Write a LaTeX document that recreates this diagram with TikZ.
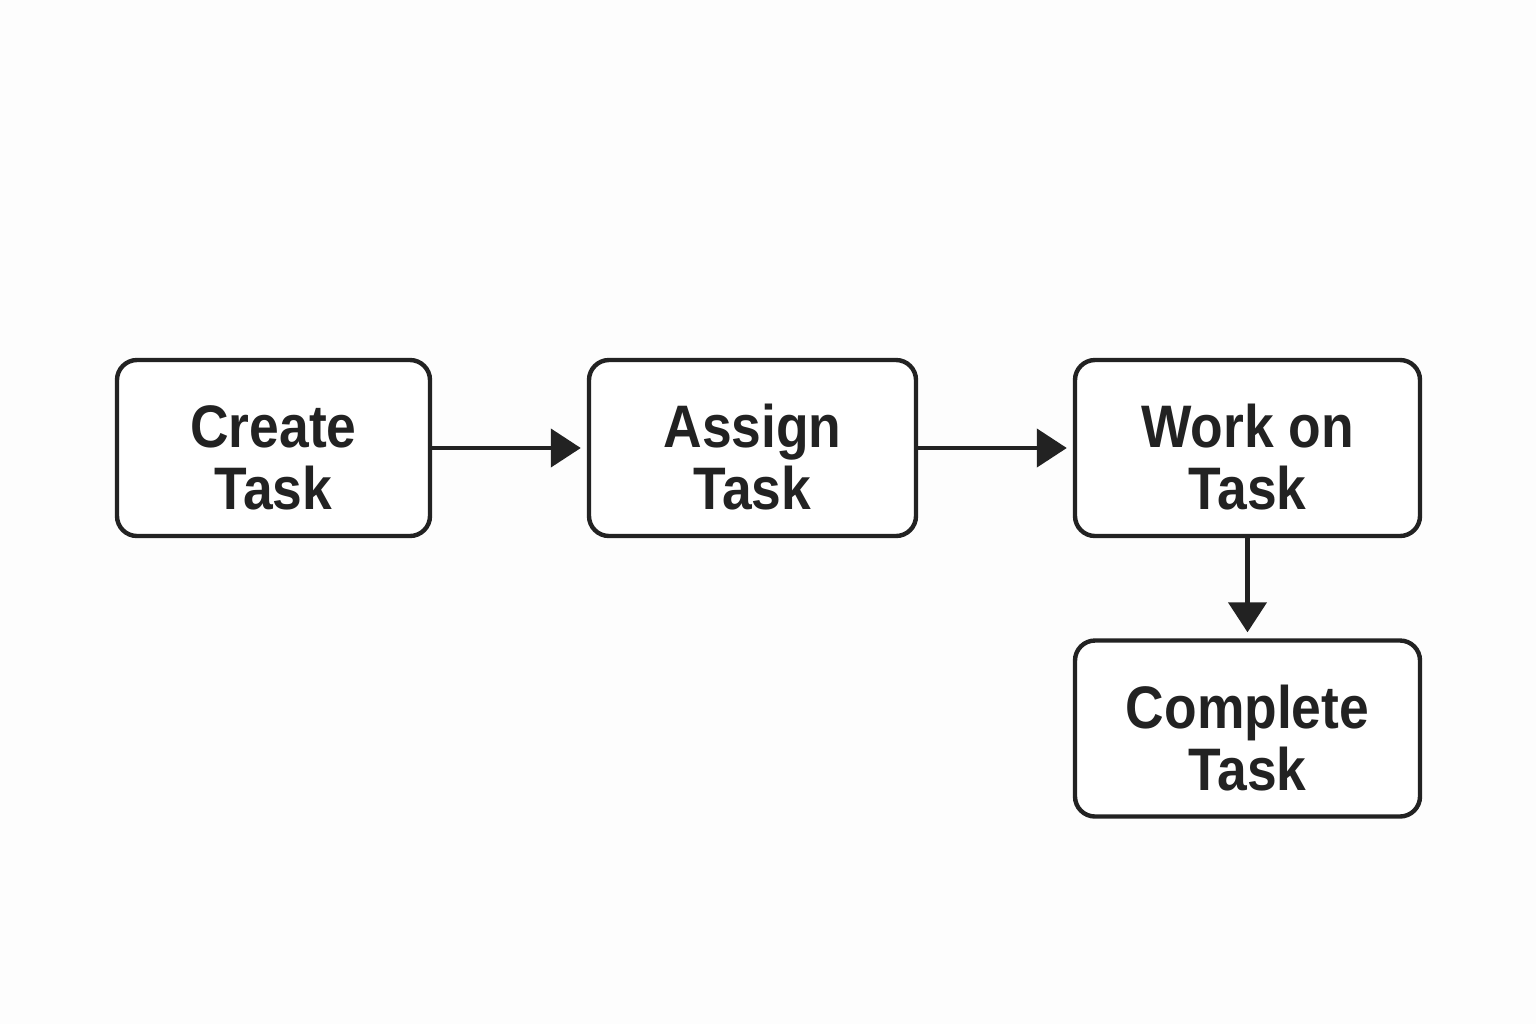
\documentclass[tikz,border=0pt]{standalone}
\usepackage{fontspec}
\setmainfont{Liberation Sans}[FakeStretch=0.89]
\usepackage{xcolor}
\usepackage{tikz}
\usetikzlibrary{arrows.meta}

\definecolor{inkgray}{HTML}{222222}
\definecolor{paper}{HTML}{FDFDFD}

\newcommand{\toppad}{\rule{0pt}{31pt}}

\tikzset{
  taskbox/.style={draw=inkgray, line width=2.2pt, rounded corners=10pt, fill=white,
    minimum height=88pt, inner sep=0pt, align=center, text=inkgray,
    font=\fontsize{30}{31}\selectfont\bfseries},
  flow/.style={draw=inkgray, line width=2.2pt, shorten >=3pt,
    -{Triangle[length=15pt,width=19pt]}}
}

\begin{document}
\begin{tikzpicture}[x=0.5pt,y=-0.5pt]
% Canvas
\fill[paper] (0,0) rectangle (1536,1024);
\useasboundingbox (0,0) rectangle (1536,1024);

% Task steps
\node[taskbox, minimum width=156.5pt] (create) at (273.5,448) {\toppad Create\\Task};
\node[taskbox, minimum width=163.5pt] (assign) at (752.5,448) {\toppad Assign\\Task};
\node[taskbox, minimum width=172.5pt] (work) at (1247.5,448) {\toppad Work on\\Task};
\node[taskbox, minimum width=172.5pt] (complete) at (1247.5,728.5) {\toppad Complete\\Task};

% Flow
\draw[flow] (create) -- (assign);
\draw[flow] (assign) -- (work);
\draw[flow] (work) -- (complete);
\end{tikzpicture}
\end{document}
